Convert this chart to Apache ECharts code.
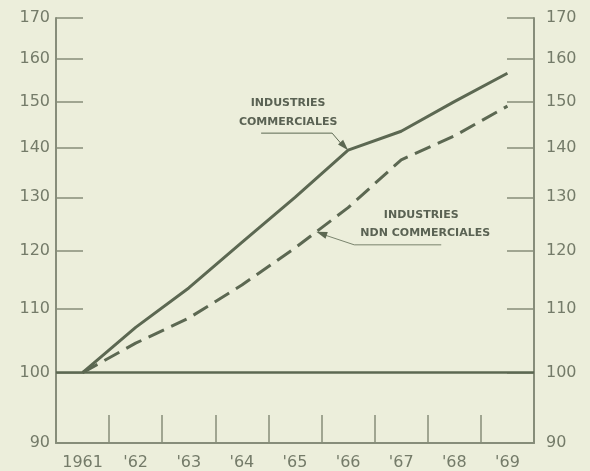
<!DOCTYPE html>
<html><head><meta charset="utf-8">
<script src="https://cdn.jsdelivr.net/npm/echarts@6/dist/echarts.min.js"></script>
<style>html,body{margin:0;padding:0;background:#eceedb}#c{width:590px;height:471px}</style>
</head><body><div id="c"></div>
<script>
const years = ['1961', "'62", "'63", "'64", "'65", "'66", "'67", "'68", "'69"];
const commerciales = [100, 107, 113.5, 121.5, 130, 139.5, 143.5, 150, 156.5];
const nonCommerciales = [100, 104.5, 108.5, 114, 120.5, 128, 137.5, 142.5, 149];
const yTicks = [90, 100, 110, 120, 130, 140, 150, 160, 170];
const labelTop = ['INDUSTRIES', 'COMMERCIALES'];
const labelBottom = ['INDUSTRIES', 'NDN COMMERCIALES'];

const axisColor = '#878d7a';
const textColor = '#747b69';
const lineColor = '#5c6852';
const bg = '#eceedb';

function yAxisDef(pos) {
  return {
    type: 'log', logBase: 10, min: 90, max: 170, position: pos,
    axisLine: { show: true, lineStyle: { color: axisColor, width: 2 } },
    axisTick: { show: true, inside: true, length: 27, customValues: yTicks,
                lineStyle: { color: axisColor, width: 1.5 } },
    axisLabel: { customValues: yTicks, color: textColor, fontSize: 16,
                 fontFamily: 'DejaVu Sans', margin: pos === 'left' ? 6 : 12 },
    splitLine: { show: false }
  };
}

const chart = echarts.init(document.getElementById('c'), null, { renderer: 'canvas' });
chart.setOption({
  backgroundColor: bg,
  animation: false,
  grid: { left: 56, right: 56, top: 18, bottom: 28, containLabel: false },
  xAxis: {
    type: 'category', data: years, boundaryGap: true,
    axisLine: { show: true, lineStyle: { color: axisColor, width: 2 } },
    axisTick: { show: true, inside: true, length: 28, interval: 0, alignWithLabel: false,
                lineStyle: { color: axisColor, width: 1.5 } },
    axisLabel: { color: textColor, fontSize: 16, fontFamily: 'DejaVu Sans', margin: 12, interval: 0 },
    splitLine: { show: false }
  },
  yAxis: [yAxisDef('left'), yAxisDef('right')],
  series: [
    {
      name: 'Industries commerciales', type: 'line', data: commerciales, yAxisIndex: 0,
      symbol: 'none', lineStyle: { color: lineColor, width: 3 },
      markLine: {
        silent: true, symbol: 'none', label: { show: false },
        lineStyle: { color: lineColor, width: 2.5, type: 'solid' },
        data: [{ yAxis: 100 }]
      }
    },
    {
      name: 'Industries non commerciales', type: 'line', data: nonCommerciales, yAxisIndex: 0,
      symbol: 'none', lineStyle: { color: lineColor, width: 3, type: [17, 8] }
    }
  ]
});

function arrowHead(tip, from, len, hw) {
  const dx = tip[0] - from[0], dy = tip[1] - from[1];
  const d = Math.hypot(dx, dy);
  const ux = dx / d, uy = dy / d;
  const bx = tip[0] - ux * len, by = tip[1] - uy * len;
  return {
    type: 'polygon', silent: true,
    shape: { points: [tip, [bx - uy * hw, by + ux * hw], [bx + uy * hw, by - ux * hw]] },
    style: { fill: lineColor }
  };
}

function txt(s, x, y) {
  return { type: 'text', silent: true, x: x, y: y,
    style: { text: s, fill: '#5a6253', font: 'bold 11px "DejaVu Sans"', align: 'center', verticalAlign: 'middle' } };
}

// upper annotation anchored to the 1966 point of the solid line
const tipA = chart.convertToPixel({ seriesIndex: 0 }, [5, commerciales[5]]);
const aBend = [tipA[0] - 16, tipA[1] - 17];
// lower annotation anchored on dashed line between '65 and '66
const p4 = chart.convertToPixel({ seriesIndex: 1 }, [4, nonCommerciales[4]]);
const p5 = chart.convertToPixel({ seriesIndex: 1 }, [5, nonCommerciales[5]]);
const t = 0.4;
const tipB = [p4[0] + (p5[0] - p4[0]) * t, p4[1] + (p5[1] - p4[1]) * t];
const bBend = [tipB[0] + 38, tipB[1] + 13];

chart.setOption({
  graphic: [
    txt(labelTop[0], tipA[0] - 60, tipA[1] - 47),
    txt(labelTop[1], tipA[0] - 60, tipA[1] - 28),
    { type: 'polyline', silent: true,
      shape: { points: [[tipA[0] - 87, aBend[1]], aBend, [tipA[0] - 4, tipA[1] - 3]] },
      style: { stroke: lineColor, lineWidth: 1, fill: null } },
    arrowHead(tipA, aBend, 11, 3.5),
    txt(labelBottom[0], tipB[0] + 105, tipB[1] - 17),
    txt(labelBottom[1], tipB[0] + 109, tipB[1] + 1),
    { type: 'polyline', silent: true,
      shape: { points: [[tipB[0] + 5, tipB[1] + 2], bBend, [tipB[0] + 125, bBend[1]]] },
      style: { stroke: lineColor, lineWidth: 0.8, fill: null } },
    arrowHead(tipB, bBend, 11, 3.5)
  ]
});
</script>
</body></html>
